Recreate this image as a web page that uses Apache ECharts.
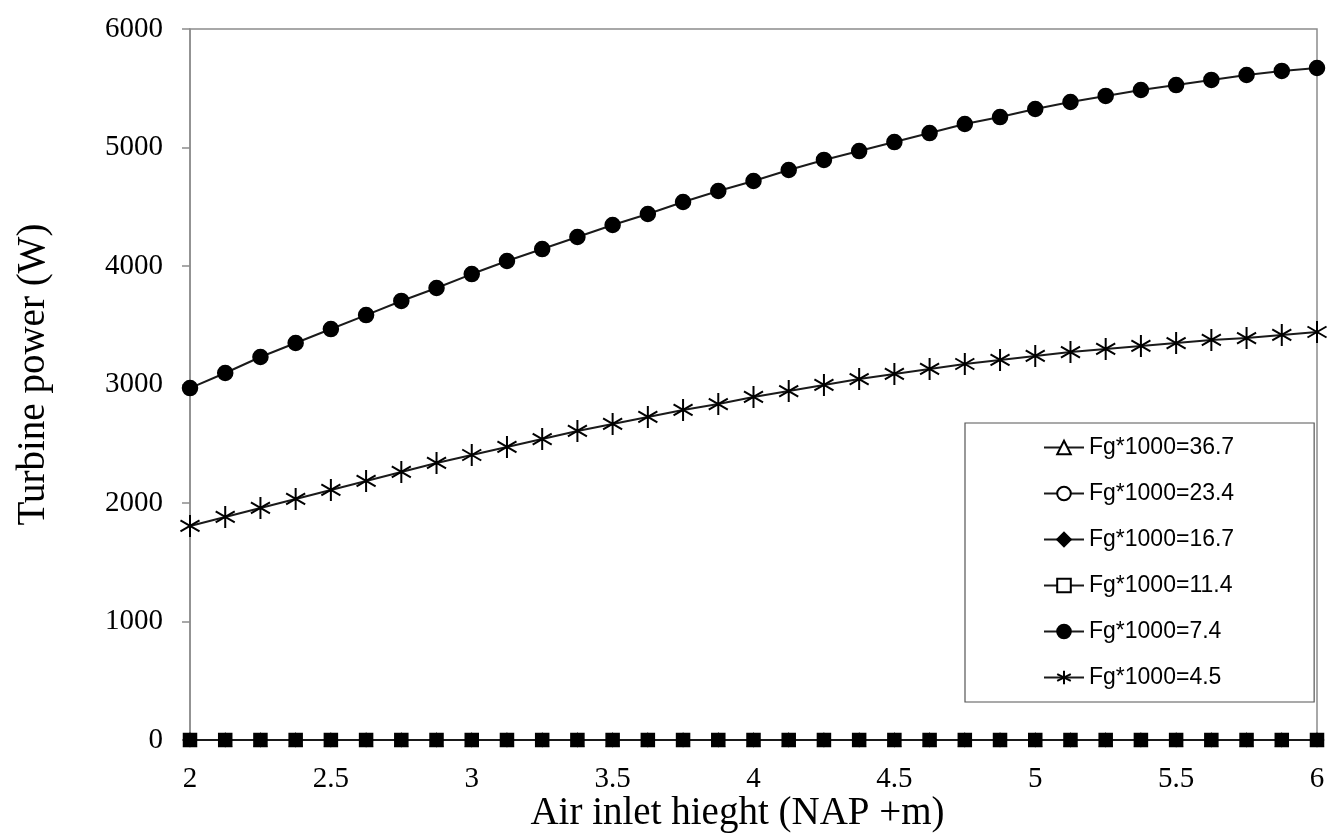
<!DOCTYPE html>
<html>
<head>
<meta charset="utf-8">
<script src="https://cdn.jsdelivr.net/npm/echarts@6/dist/echarts.min.js"></script>
<style>
  html, body { margin: 0; padding: 0; background: #fff; }
  #chart { width: 1343px; height: 833px; }
</style>
</head>
<body>
<div id="chart"></div>
<script>
// Air inlet height (NAP +m), sampled every 0.125 m
const heights = [2, 2.125, 2.25, 2.375, 2.5, 2.625, 2.75, 2.875, 3, 3.125, 3.25, 3.375, 3.5, 3.625, 3.75, 3.875,
  4, 4.125, 4.25, 4.375, 4.5, 4.625, 4.75, 4.875, 5, 5.125, 5.25, 5.375, 5.5, 5.625, 5.75, 5.875, 6];

// Turbine power (W) for each Fg*1000 value
const power_36_7 = heights.map(() => 0);
const power_23_4 = heights.map(() => 0);
const power_16_7 = heights.map(() => 0);
const power_11_4 = heights.map(() => 0);
const power_7_4 = [2970, 3097, 3232, 3350, 3468, 3586, 3705, 3814, 3932, 4042, 4143, 4245, 4346, 4439, 4540, 4633,
  4717, 4810, 4895, 4970, 5046, 5122, 5198, 5257, 5325, 5384, 5435, 5485, 5527, 5570, 5612, 5646, 5671];
const power_4_5 = [1806, 1882, 1958, 2034, 2110, 2186, 2262, 2338, 2405, 2473, 2540, 2608, 2667, 2726, 2785, 2835,
  2895, 2945, 2996, 3046, 3089, 3131, 3173, 3207, 3241, 3274, 3300, 3325, 3350, 3376, 3392, 3418, 3443];

const seriesNames = ['Fg*1000=36.7', 'Fg*1000=23.4', 'Fg*1000=16.7', 'Fg*1000=11.4', 'Fg*1000=7.4', 'Fg*1000=4.5'];

const serif = '"Liberation Serif", "Times New Roman", serif';
const sans = '"Liberation Sans", Arial, sans-serif';
const ASTERISK = 'path://M10,0L10,20M1.34,5L18.66,15M1.34,15L18.66,5';

function pairs(values) {
  return heights.map((h, i) => [h, values[i]]);
}

function lineSeries(name, values, symbol, size, fill, z, strokeWidth) {
  return {
    name: name,
    type: 'line',
    data: pairs(values),
    symbol: symbol,
    symbolSize: size,
    symbolKeepAspect: true,
    showAllSymbol: true,
    clip: false,
    z: z,
    lineStyle: { color: '#1a1a1a', width: 2 },
    itemStyle: { color: fill, borderColor: '#000', borderWidth: strokeWidth || 1.5 },
    emphasis: { disabled: true }
  };
}

const chart = echarts.init(document.getElementById('chart'), null, { renderer: 'canvas' });

chart.setOption({
  animation: false,
  backgroundColor: '#fff',
  grid: {
    left: 190, right: 26, top: 29, bottom: 93,
    outerBoundsMode: 'none',
    containLabel: false,
    show: true, borderColor: '#8c8c8c', borderWidth: 1.5, backgroundColor: 'transparent'
  },
  legend: {
    orient: 'vertical',
    left: 965,
    top: 423,
    padding: [13, 80, 13, 78],
    itemGap: 23,
    itemWidth: 40,
    itemHeight: 17,
    backgroundColor: '#fff',
    borderColor: '#555',
    borderWidth: 1.2,
    borderRadius: 0,
    textStyle: { fontFamily: sans, fontSize: 23, color: '#000' },
    data: [
      { name: seriesNames[0] },
      { name: seriesNames[1] },
      { name: seriesNames[2] },
      { name: seriesNames[3], itemStyle: { color: '#fff' } },
      { name: seriesNames[4] },
      { name: seriesNames[5] }
    ]
  },
  xAxis: {
    type: 'value',
    min: 2, max: 6, interval: 0.5,
    name: 'Air inlet hieght (NAP +m)',
    nameLocation: 'middle',
    nameGap: 54,
    nameMoveOverlap: false,
    nameTextStyle: { fontFamily: serif, fontSize: 39, color: '#000', padding: [0, 32, 0, 0] },
    axisLine: { show: true, onZero: false, lineStyle: { color: '#8c8c8c', width: 1.5 } },
    axisTick: { show: true, length: 6, lineStyle: { color: '#8c8c8c', width: 1.5 } },
    axisLabel: { fontFamily: serif, fontSize: 29, color: '#000', margin: 25 },
    splitLine: { show: false }
  },
  yAxis: {
    type: 'value',
    min: 0, max: 6000, interval: 1000,
    name: 'Turbine power (W)',
    nameLocation: 'middle',
    nameGap: 137,
    nameMoveOverlap: false,
    nameTextStyle: { fontFamily: serif, fontSize: 39, color: '#000', padding: [0, 0, 0, 20] },
    axisLine: { show: true, lineStyle: { color: '#8c8c8c', width: 1.5 } },
    axisTick: { show: true, length: 8, lineStyle: { color: '#8c8c8c', width: 1.5 } },
    axisLabel: { fontFamily: serif, fontSize: 29, color: '#000', margin: 27, formatter: (v) => String(v) },
    splitLine: { show: false }
  },
  series: [
    lineSeries(seriesNames[0], power_36_7, 'triangle', 12, '#fff', 2),
    lineSeries(seriesNames[1], power_23_4, 'circle', 12, '#fff', 3),
    lineSeries(seriesNames[2], power_16_7, 'diamond', 13, '#000', 4),
    lineSeries(seriesNames[3], power_11_4, 'rect', 13, '#000', 5),
    lineSeries(seriesNames[4], power_7_4, 'circle', 15, '#000', 6),
    lineSeries(seriesNames[5], power_4_5, ASTERISK, 22, '#000', 7, 2)
  ]
});
</script>
</body>
</html>
